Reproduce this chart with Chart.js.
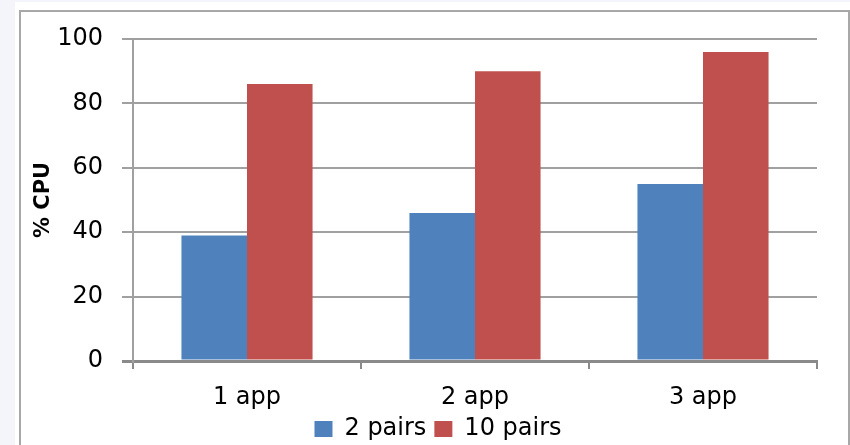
<!DOCTYPE html>
<html lang="en">
<head>
  <meta charset="UTF-8">
  <title>% CPU</title>
  <script src="https://cdn.jsdelivr.net/npm/chart.js"></script>
  <style>
    body {
      margin: 0;
      padding: 0;
      background: #f3f5fa;
    }
    #chartContainer {
      width: 850px;
      height: 445px;
    }
  </style>
</head>
<body>
  <div id="chartContainer">
    <canvas id="cpuChart" width="850" height="445"></canvas>
  </div>
  <script>
    // Data
    const categories = ['1 app', '2 app', '3 app'];
    const pairs2 = [39, 46, 55];
    const pairs10 = [86, 90, 96];
    const seriesNames = ['2 pairs', '10 pairs'];
    const yMin = 0, yMax = 100, yStep = 20;

    const tickFont = { family: 'DejaVu Sans', size: 24 };

    // page frame: white panel with grey border behind the chart
    const framePlugin = {
      id: 'frame',
      beforeDraw(chart) {
        const c = chart.ctx;
        c.save();
        c.fillStyle = '#f3f5fa';
        c.fillRect(0, 0, chart.width, chart.height);
        c.fillStyle = '#ffffff';
        c.fillRect(15, 2, chart.width - 15, chart.height);
        c.strokeStyle = '#a8a8a8';
        c.lineWidth = 2;
        c.strokeRect(20, 11, 829, 460);
        c.restore();
      }
    };

    // nudge the legend so it sits where the original one does,
    // and let the category labels overlap the legend band without clipping
    const legendShift = {
      id: 'legendShift',
      afterLayout(chart) {
        const lg = chart.legend;
        lg.left += 16; lg.right += 16;
        lg.top += 6; lg.bottom += 6;
        chart.scales.x.bottom = chart.height;
      }
    };

    const ctx = document.getElementById('cpuChart').getContext('2d');
    const cpuChart = new Chart(ctx, {
      type: 'bar',
      data: {
        labels: categories,
        datasets: [
          { label: seriesNames[0], data: pairs2, backgroundColor: '#4f81bd' },
          { label: seriesNames[1], data: pairs10, backgroundColor: '#c0504d' }
        ]
      },
      options: {
        responsive: false,
        animation: false,
        categoryPercentage: 0.575,
        barPercentage: 1,
        layout: { padding: { left: 27, right: 33, top: 39, bottom: 0 } },
        plugins: {
          tooltip: { enabled: false },
          legend: {
            position: 'bottom',
            labels: {
              font: tickFont,
              color: '#000',
              boxWidth: 18,
              boxHeight: 16,
              padding: 8
            }
          }
        },
        scales: {
          x: {
            afterFit(scale) { scale.height = 42; },
            grid: {
              offset: true,
              drawOnChartArea: false,
              drawTicks: true,
              tickLength: 8,
              color: '#8a8a8a',
              lineWidth: 2
            },
            border: { color: '#8a8a8a', width: 3 },
            ticks: { font: tickFont, color: '#000', padding: 14 }
          },
          y: {
            min: yMin,
            max: yMax,
            afterFit(scale) { scale.width = 106; },
            grid: {
              tickLength: 11,
              color: ctx => ctx.tick && ctx.tick.value === 0 ? '#8a8a8a' : '#a0a0a0',
              lineWidth: ctx => ctx.tick && ctx.tick.value === 0 ? 3 : 2
            },
            border: { color: '#a0a0a0', width: 2 },
            ticks: { stepSize: yStep, font: tickFont, color: '#000', padding: 19 },
            title: {
              display: true,
              text: '% CPU',
              font: { family: 'DejaVu Sans', size: 21, weight: 'bold' },
              color: '#000',
              padding: { top: 4, bottom: 4 }
            }
          }
        }
      },
      plugins: [framePlugin, legendShift]
    });
  </script>
</body>
</html>
